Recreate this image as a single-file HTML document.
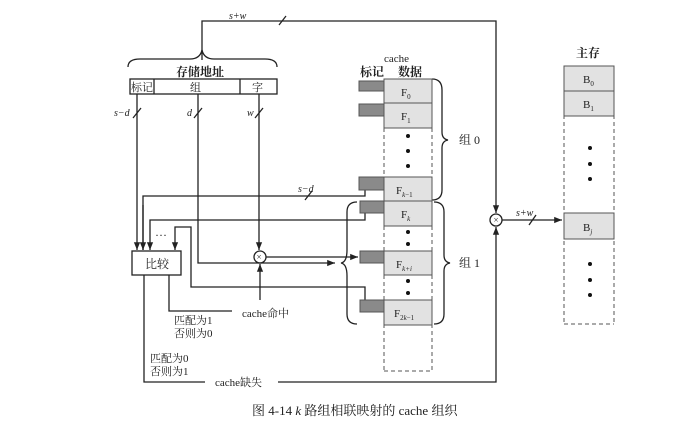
<!DOCTYPE html>
<html><head><meta charset="utf-8"><style>
html,body{margin:0;padding:0;background:#fff;}
svg{display:block;}
text{font-family:"Liberation Serif","Noto Serif CJK SC",serif;fill:#222;}
</style></head><body>
<svg width="677" height="427" viewBox="0 0 677 427" xmlns="http://www.w3.org/2000/svg">
<defs><marker id="a" viewBox="0 0 10 10" refX="10" refY="5" markerWidth="6" markerHeight="6" orient="auto"><path d="M0,1 L10,5 L0,9z" fill="#222"/></marker></defs>
<g stroke="#222" stroke-width="1.3" fill="none">
<polyline points="202,60 202,21 496,21 496,213" marker-end="url(#a)"/>
<line x1="279" y1="25" x2="286" y2="16"/>
<path d="M128,67 Q128,59 140,59 L190,59 Q200,59 202,50 Q204,59 214,59 L265,59 Q277,59 277,67"/>
<rect x="130" y="79" width="147" height="15"/>
<line x1="154" y1="79" x2="154" y2="94"/><line x1="240" y1="79" x2="240" y2="94"/>
<line x1="137" y1="94" x2="137" y2="250" marker-end="url(#a)"/>
<line x1="133" y1="118" x2="141" y2="108"/>
<polyline points="198,94 198,263 335,263" marker-end="url(#a)"/>
<line x1="194" y1="118" x2="202" y2="108"/>
<line x1="259" y1="94" x2="259" y2="250" marker-end="url(#a)"/>
<line x1="255" y1="118" x2="263" y2="108"/>
<polyline points="143,250 143,196 365,196 365,190" />
<line x1="143" y1="205" x2="143" y2="250" marker-end="url(#a)"/>
<line x1="305" y1="200" x2="312" y2="191"/>
<polyline points="365,213 365,220 150,220 150,250" marker-end="url(#a)"/>
<polyline points="365,300 365,287 191,287 191,227 175,227 175,250" marker-end="url(#a)"/>
<circle cx="260" cy="257" r="6"/>
<line x1="266" y1="257" x2="358" y2="257" marker-end="url(#a)"/>
<line x1="260" y1="300" x2="260" y2="264" marker-end="url(#a)"/>
<rect x="132" y="251" width="49" height="24"/>
<polyline points="169,275 169,311 232,311"/>
<polyline points="144,275 144,382 205,382"/>
<polyline points="278,382 496,382 496,227" marker-end="url(#a)"/>
<circle cx="496" cy="220" r="6"/>
<line x1="502" y1="220" x2="562" y2="220" marker-end="url(#a)"/>
<line x1="529" y1="225" x2="536" y2="215"/>
<path d="M357,202 Q347,202 347,212 L347,250 Q347,262 341,263 Q347,264 347,276 L347,314 Q347,324 357,324"/>
<path d="M432,79 Q442,79 442,90 L442,132 Q442,139 448,140 Q442,141 442,148 L442,190 Q442,200 432,200"/>
<path d="M434,202 Q444,202 444,212 L444,255 Q444,262 450,263 Q444,264 444,271 L444,314 Q444,324 434,324"/>
</g>
<g fill="#222">
<text x="229" y="19" font-size="10" font-style="italic">s+w</text>
<text x="176" y="76" font-size="12" font-weight="bold">存储地址</text>
<text x="131" y="91" font-size="11">标记</text>
<text x="190" y="91" font-size="11">组</text>
<text x="252" y="91" font-size="11">字</text>
<text x="114" y="116" font-size="10" font-style="italic">s−d</text>
<text x="187" y="116" font-size="10" font-style="italic">d</text>
<text x="247" y="116" font-size="10" font-style="italic">w</text>
<text x="298" y="192" font-size="10" font-style="italic">s−d</text>
<text x="155" y="239" font-size="12">···</text>
<text x="145" y="268" font-size="12">比较</text>
<text x="242" y="317" font-size="11">cache命中</text>
<text x="174" y="324" font-size="11">匹配为1</text>
<text x="174" y="337" font-size="11">否则为0</text>
<text x="150" y="362" font-size="11">匹配为0</text>
<text x="150" y="375" font-size="11">否则为1</text>
<text x="215" y="386" font-size="11">cache缺失</text>
<text x="516" y="216" font-size="10" font-style="italic">s+w</text>
<text x="384" y="62" font-size="11">cache</text>
<text x="360" y="76" font-size="12" font-weight="bold">标记</text>
<text x="398" y="76" font-size="12" font-weight="bold">数据</text>
<text x="459" y="144" font-size="12">组 0</text>
<text x="459" y="267" font-size="12">组 1</text>
<text x="576" y="57" font-size="12" font-weight="bold">主存</text>
<text x="252" y="415" font-size="13">图 4-14    <tspan font-style="italic">k</tspan> 路组相联映射的 cache 组织</text>
</g>
<g stroke="#555" stroke-width="1">
<line x1="384" y1="79" x2="384" y2="371" stroke-dasharray="4,3"/>
<line x1="432" y1="79" x2="432" y2="371" stroke-dasharray="4,3"/>
<line x1="384" y1="371" x2="432" y2="371" stroke-dasharray="4,3"/>
<g fill="#e2e2e2">
<rect x="384" y="79" width="48" height="24"/><rect x="384" y="103" width="48" height="25"/>
<rect x="384" y="177" width="48" height="24"/><rect x="384" y="201" width="48" height="25"/>
<rect x="384" y="251" width="48" height="24"/><rect x="384" y="300" width="48" height="25"/>
</g>
<g fill="#8a8a8a">
<rect x="359" y="81" width="25" height="10"/><rect x="359" y="104" width="25" height="12"/>
<rect x="359" y="177" width="25" height="13"/><rect x="360" y="201" width="24" height="12"/>
<rect x="360" y="251" width="24" height="12"/><rect x="360" y="300" width="24" height="12"/>
</g>
<line x1="564" y1="66" x2="564" y2="324" stroke-dasharray="4,3"/>
<line x1="614" y1="66" x2="614" y2="324" stroke-dasharray="4,3"/>
<line x1="564" y1="324" x2="614" y2="324" stroke-dasharray="4,3"/>
<g fill="#e2e2e2">
<rect x="564" y="66" width="50" height="25"/><rect x="564" y="91" width="50" height="25"/>
<rect x="564" y="213" width="50" height="26"/>
</g>
</g>
<g fill="#111">
<circle cx="408" cy="136" r="2"/><circle cx="408" cy="151" r="2"/><circle cx="408" cy="166" r="2"/>
<circle cx="408" cy="232" r="2"/><circle cx="408" cy="244" r="2"/>
<circle cx="408" cy="281" r="2"/><circle cx="408" cy="293" r="2"/>
<circle cx="590" cy="148" r="2"/><circle cx="590" cy="164" r="2"/><circle cx="590" cy="179" r="2"/>
<circle cx="590" cy="264" r="2"/><circle cx="590" cy="280" r="2"/><circle cx="590" cy="295" r="2"/>
</g>
<g font-size="11">
<text x="401" y="96">F<tspan font-size="7" dy="3">0</tspan></text>
<text x="401" y="120">F<tspan font-size="7" dy="3">1</tspan></text>
<text x="396" y="194">F<tspan font-size="7" dy="3" font-style="italic">k</tspan><tspan font-size="7">−1</tspan></text>
<text x="401" y="218">F<tspan font-size="7" dy="3" font-style="italic">k</tspan></text>
<text x="396" y="268">F<tspan font-size="7" dy="3" font-style="italic">k+i</tspan></text>
<text x="394" y="317">F<tspan font-size="7" dy="3">2<tspan font-style="italic">k</tspan>−1</tspan></text>
<text x="583" y="83">B<tspan font-size="7" dy="3">0</tspan></text>
<text x="583" y="108">B<tspan font-size="7" dy="3">1</tspan></text>
<text x="583" y="231">B<tspan font-size="7" dy="3" font-style="italic">j</tspan></text>
<text x="259" y="260" font-size="9" text-anchor="middle">×</text>
<text x="496" y="223" font-size="9" text-anchor="middle">×</text>
</g>
</svg>
</body></html>
